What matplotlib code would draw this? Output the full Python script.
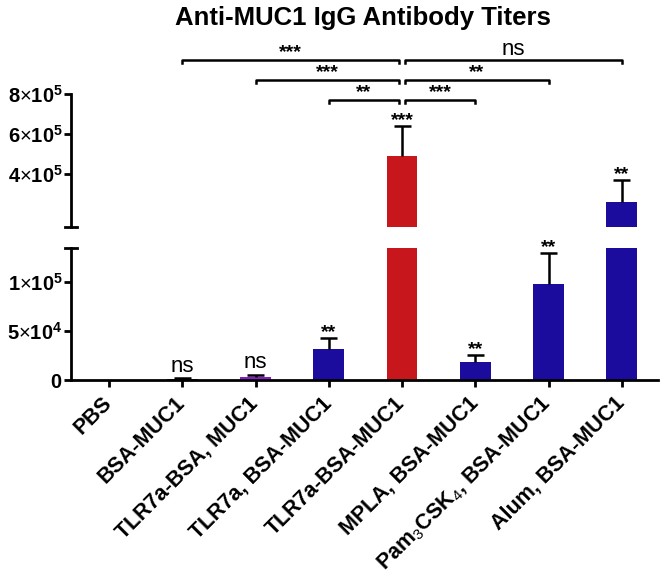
import matplotlib.pyplot as plt
import numpy as np
from matplotlib.ticker import FixedLocator, FuncFormatter
from matplotlib.transforms import ScaledTranslation

plt.rcParams['font.family'] = ['Liberation Sans', 'DejaVu Sans']
plt.rcParams['mathtext.fontset'] = 'custom'
plt.rcParams['mathtext.rm'] = 'Liberation Sans'
plt.rcParams['mathtext.bf'] = 'Liberation Sans:bold'

# data
groups = ['PBS', 'BSA-MUC1', 'TLR7a-BSA, MUC1', 'TLR7a, BSA-MUC1', 'TLR7a-BSA-MUC1',
          'MPLA, BSA-MUC1', 'Pam$_3$CSK$_4$, BSA-MUC1', 'Alum, BSA-MUC1']
means = [0, 800, 3500, 32000, 490000, 18500, 98000, 260000]
errs = [0, 1000, 2000, 11000, 150000, 7000, 32000, 110000]
colors = ['#1c0c9e', '#1c0c9e', '#8a1cc8', '#1c0c9e', '#c8171c', '#1c0c9e', '#1c0c9e', '#1c0c9e']
marks = ['', 'ns', 'ns', '**', '***', '**', '**', '**']

# pairwise comparisons against TLR7a-BSA-MUC1 (index 4): (other, label, level)
comparisons = [(3, '**', 0), (2, '***', 1), (1, '***', 2),
               (5, '***', 0), (6, '**', 1), (7, 'ns', 2)]
bracket_levels = [7.7e5, 8.7e5, 9.7e5]

break_at = 1.35e5
top_max = 8e5

fig = plt.figure(figsize=(6.6, 5.77), dpi=100)
ax_top = fig.add_axes([0.1076, 0.6066, 0.889, 0.2305])
ax_bot = fig.add_axes([0.1076, 0.3414, 0.889, 0.2288])

x = np.arange(len(groups))
tops = np.array(means) + np.array(errs)
cap = 0.115

for ax in (ax_top, ax_bot):
    ax.bar(x, means, width=0.42, color=colors, zorder=2)
    ax.set_xlim(-0.52, 7.49)
    for s in ['top', 'right']:
        ax.spines[s].set_visible(False)
    ax.spines['left'].set_linewidth(2)
    ax.spines['bottom'].set_linewidth(2)
    ax.tick_params(axis='y', width=2, length=5, labelsize=14.5, pad=1)

# error bars (upper only), drawn in the panel that holds them
for i in range(len(groups)):
    if errs[i] == 0:
        continue
    ax = ax_top if tops[i] > break_at else ax_bot
    ax.vlines(x[i], means[i], tops[i], color='black', lw=1.8, zorder=3)
    ax.hlines(tops[i], x[i] - cap, x[i] + cap, color='black', lw=1.8, zorder=3)

ax_top.set_ylim(break_at, top_max)
ax_bot.set_ylim(0, break_at)
ax_top.spines['bottom'].set_visible(False)
ax_top.tick_params(axis='x', bottom=False, labelbottom=False)


def sci(v, pos):
    if v == 0:
        return r'$\mathbf{0}$'
    exp = int(np.floor(np.log10(v)))
    m = int(round(v / 10 ** exp))
    return r'$\mathbf{%d}{\times}\mathbf{10^{%d}}$' % (m, exp)


ax_top.yaxis.set_major_locator(FixedLocator([4e5, 6e5, 8e5]))
ax_bot.yaxis.set_major_locator(FixedLocator([0, 5e4, 1e5]))
ax_top.yaxis.set_major_formatter(FuncFormatter(sci))
ax_bot.yaxis.set_major_formatter(FuncFormatter(sci))

ax_bot.set_xticks(x)
ax_bot.set_xticklabels(groups, rotation=45, ha='right', rotation_mode='anchor',
                       fontsize=15.5, fontweight='bold')
ax_bot.tick_params(axis='x', width=2, length=5, pad=7)
shift = ScaledTranslation(-8 / 100, 4 / 100, fig.dpi_scale_trans)
for lbl in ax_bot.get_xticklabels():
    lbl.set_transform(lbl.get_transform() + shift)

# break marks on the y axis
for ax, yy in ((ax_top, 0), (ax_bot, 1)):
    ax.plot([-0.011, 0.011], [yy, yy], transform=ax.transAxes, color='black',
            lw=2, clip_on=False, zorder=5)

# significance above each bar
for i in range(len(groups)):
    if not marks[i]:
        continue
    ax = ax_top if tops[i] > break_at else ax_bot
    if marks[i] == 'ns':
        ax.annotate('ns', (x[i], tops[i]), xytext=(0, 1), textcoords='offset points',
                    ha='center', va='bottom', fontsize=16, annotation_clip=False)
    else:
        ax.annotate(marks[i], (x[i], tops[i]), xytext=(0, -2), textcoords='offset points',
                    ha='center', va='bottom', fontsize=14, fontweight='bold',
                    annotation_clip=False)

# comparison brackets
ref = 4
gap = 0.04
tick = 1.5e4
for other, lab, lvl in comparisons:
    h = bracket_levels[lvl]
    if other < ref:
        x0, x1 = x[other], x[ref] - gap
    else:
        x0, x1 = x[ref] + gap, x[other]
    ax_top.plot([x0, x0, x1, x1], [h - tick, h, h, h - tick], color='black', lw=1.8,
                clip_on=False)
    if lab == 'ns':
        ax_top.text((x0 + x1) / 2, h, 'ns', ha='center', va='bottom', fontsize=16,
                    clip_on=False)
    else:
        ax_top.text((x0 + x1) / 2, h - 0.5e4, lab, ha='center', va='bottom', fontsize=14,
                    fontweight='bold', clip_on=False)

fig.text(0.55, 0.99, 'Anti-MUC1 IgG Antibody Titers', ha='center', va='top',
         fontsize=18.5, fontweight='bold')

fig.savefig('out.png', dpi=100)
